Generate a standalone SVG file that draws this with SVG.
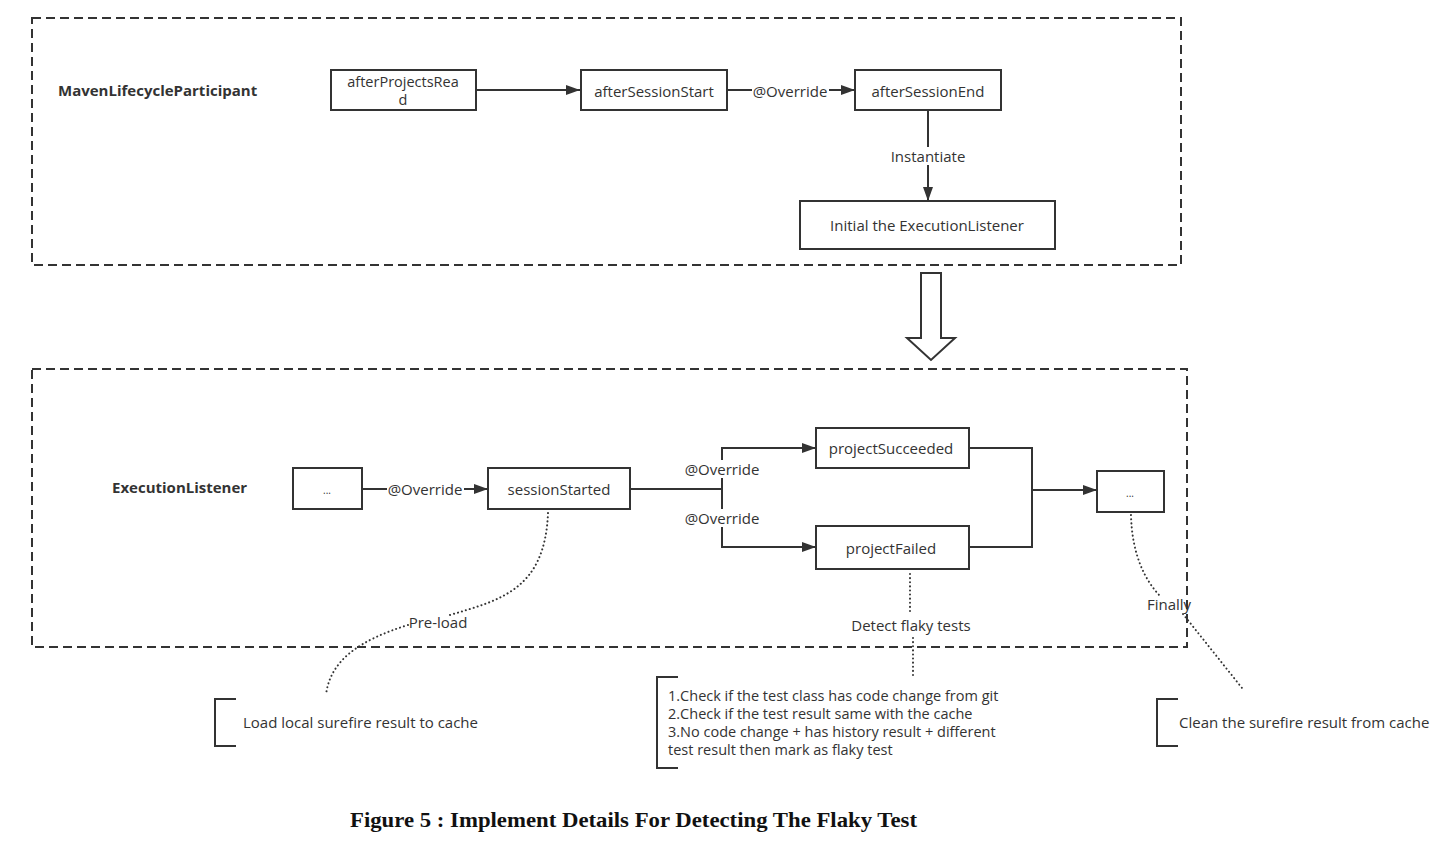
<svg xmlns="http://www.w3.org/2000/svg" width="1442" height="842" viewBox="0 0 1442 842">
<defs>
<marker id="arr" viewBox="0 0 14 10" refX="14" refY="5" markerWidth="14" markerHeight="10" markerUnits="userSpaceOnUse" orient="auto">
<path d="M0,0 L14,5 L0,10 Z" fill="#333"/>
</marker>
<style>
.node rect{fill:#fff;stroke:#333;stroke-width:2}
text{font-family:"Open Sans","Noto Sans","DejaVu Sans",sans-serif;font-size:15px;fill:#333}
.c{text-anchor:middle;dominant-baseline:central}
.b{font-weight:bold}
.m{font-size:14.5px}
.frame{fill:none;stroke:#333;stroke-width:2;stroke-dasharray:9 5}
.ln{fill:none;stroke:#333;stroke-width:2}
.dot{fill:none;stroke:#333;stroke-width:2;stroke-dasharray:0.1 4;stroke-linecap:round}
.lbl{fill:#fff}
.br{fill:none;stroke:#333;stroke-width:2}
</style>
</defs>
<rect width="1442" height="842" fill="#fff"/>

<g id="frames">
<rect class="frame" x="32" y="18" width="1149" height="247"/>
<rect class="frame" x="32" y="369" width="1155" height="278"/>
</g>

<g id="titles">
<text class="b" x="58" y="96">MavenLifecycleParticipant</text>
<text class="b" x="112" y="493">ExecutionListener</text>
</g>

<g id="connectors">
<line class="ln" x1="476" y1="90" x2="580" y2="90" marker-end="url(#arr)"/>
<line class="ln" x1="727" y1="90" x2="855" y2="90" marker-end="url(#arr)"/>
<rect class="lbl" x="752" y="82" width="77" height="18"/>
<text class="c" x="790" y="91">@Override</text>
<line class="ln" x1="928" y1="110" x2="928" y2="201" marker-end="url(#arr)"/>
<rect class="lbl" x="886" y="147" width="84" height="18"/>
<text class="c" x="928" y="156">Instantiate</text>

<line class="ln" x1="362" y1="489" x2="488" y2="489" marker-end="url(#arr)"/>
<rect class="lbl" x="387" y="480" width="77" height="18"/>
<text class="c" x="425" y="489">@Override</text>

<path class="ln" d="M630,489 H722"/>
<path class="ln" d="M722,489 V448 H816" marker-end="url(#arr)"/>
<path class="ln" d="M722,489 V547 H816" marker-end="url(#arr)"/>
<rect class="lbl" x="684" y="460" width="77" height="18"/>
<text class="c" x="722" y="469">@Override</text>
<rect class="lbl" x="684" y="509" width="77" height="18"/>
<text class="c" x="722" y="518">@Override</text>

<path class="ln" d="M969,448 H1032 V547 H969"/>
<line class="ln" x1="1032" y1="490" x2="1097" y2="490" marker-end="url(#arr)"/>

<path class="dot" d="M548,513 C545,590 500,600 450,615"/>
<path class="dot" d="M408,625 C360,640 330,660 326,695"/>
<text class="c" x="438" y="622">Pre-load</text>

<path class="dot" d="M910,574 L910,612"/>
<path class="dot" d="M913,638 L913,676"/>
<text class="c" x="911" y="625">Detect flaky tests</text>

<path class="dot" d="M1131,515 C1132,555 1145,580 1160,596"/>
<path class="dot" d="M1183,614 L1242,688"/>
<text class="c" x="1169" y="604">Finally</text>
</g>

<g id="block-arrow">
<path d="M921,273 H941 V338 H955 L931,360 L907,338 H921 Z" fill="#fff" stroke="#333" stroke-width="2" stroke-linejoin="miter"/>
</g>

<g id="n-afterProjectsRead" class="node">
<rect x="331" y="70" width="145" height="40"/>
<text class="c m" x="403" y="81">afterProjectsRea</text>
<text class="c m" x="403" y="99">d</text>
</g>
<g id="n-afterSessionStart" class="node">
<rect x="581" y="70" width="146" height="40"/>
<text class="c" x="654" y="91">afterSessionStart</text>
</g>
<g id="n-afterSessionEnd" class="node">
<rect x="855" y="70" width="146" height="40"/>
<text class="c" x="928" y="91">afterSessionEnd</text>
</g>
<g id="n-initial" class="node">
<rect x="800" y="201" width="255" height="48"/>
<text class="c" x="927" y="225">Initial the ExecutionListener</text>
</g>

<g id="n-dots1" class="node">
<rect x="293" y="468" width="69" height="41"/>
<text class="c" x="327" y="490" style="font-size:10px">...</text>
</g>
<g id="n-sessionStarted" class="node">
<rect x="488" y="468" width="142" height="41"/>
<text class="c" x="559" y="489">sessionStarted</text>
</g>
<g id="n-projectSucceeded" class="node">
<rect x="816" y="428" width="153" height="40"/>
<text class="c" x="891" y="448">projectSucceeded</text>
</g>
<g id="n-projectFailed" class="node">
<rect x="816" y="526" width="153" height="43"/>
<text class="c" x="891" y="548">projectFailed</text>
</g>
<g id="n-dots2" class="node">
<rect x="1097" y="471" width="67" height="41"/>
<text class="c" x="1130" y="493" style="font-size:10px">...</text>
</g>

<g id="note-preload">
<path class="br" d="M236,699 H215 V746 H236"/>
<text x="243" y="728">Load local surefire result to cache</text>
</g>
<g id="note-detect">
<path class="br" d="M678,677 H657 V768 H678"/>
<text class="m" x="668" y="701">1.Check if the test class has code change from git</text>
<text class="m" x="668" y="719">2.Check if the test result same with the cache</text>
<text class="m" x="668" y="737">3.No code change + has history result + different</text>
<text class="m" x="668" y="755">test result then mark as flaky test</text>
</g>
<g id="note-finally">
<path class="br" d="M1178,699 H1157 V746 H1178"/>
<text x="1179" y="728">Clean the surefire result from cache</text>
</g>

<text x="350" y="827" textLength="567" lengthAdjust="spacingAndGlyphs" style="font-family:'Liberation Serif','Times New Roman',serif;font-weight:bold;font-size:22px;fill:#111">Figure 5 : Implement Details For Detecting The Flaky Test</text>
</svg>
